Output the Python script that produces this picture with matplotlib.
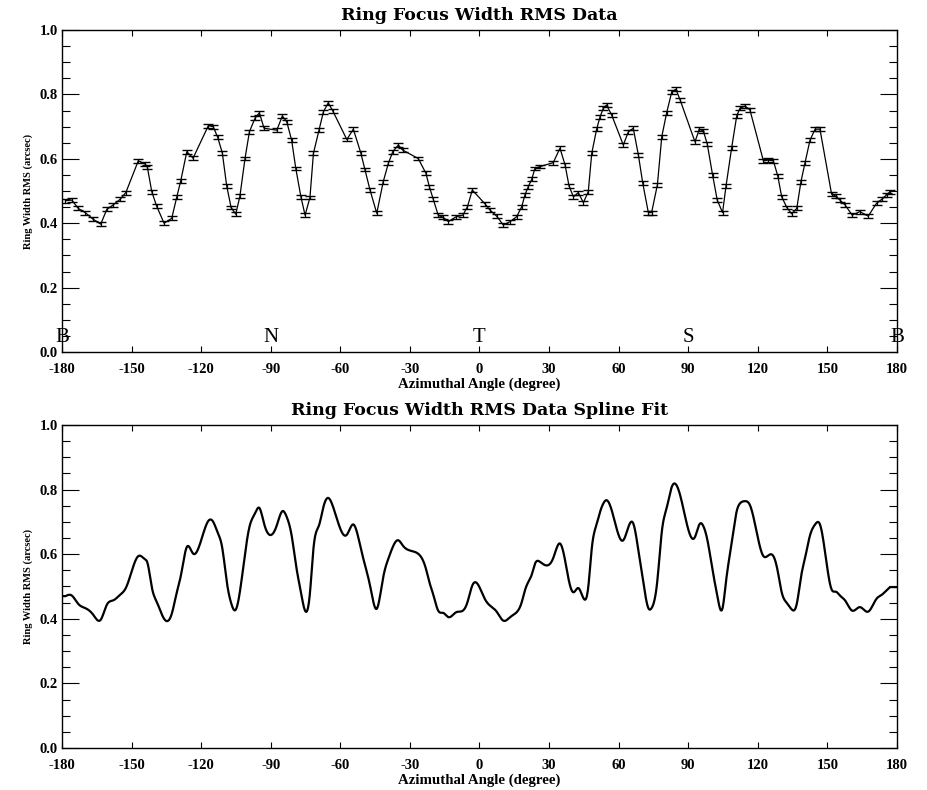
import numpy as np
import matplotlib
matplotlib.use("Agg")
import matplotlib.pyplot as plt
from matplotlib.font_manager import FontProperties
from matplotlib.ticker import MultipleLocator, FormatStrFormatter

plt.rcParams['axes.unicode_minus'] = False
plt.rcParams['font.family'] = ['Liberation Serif', 'DejaVu Serif']

# Azimuthal angle of each ring-width sample (degree)
angle = [
    -178.5, -175.8, -173.0, -170.0, -166.5, -163.3, -160.7, -157.9, -155.0, -152.5,
    -147.1, -144.2, -143.2, -141.3, -139.2, -136.0, -132.7, -130.5, -128.8, -126.2,
    -123.5, -116.9, -114.8, -112.9, -110.9, -109.0, -107.1, -105.1, -103.3, -101.1,
    -99.2, -96.8, -94.9, -92.9, -87.4, -85.0, -83.1, -81.0, -79.2, -77.0,
    -75.2, -73.1, -71.6, -69.2, -67.3, -65.2, -63.2, -57.2, -54.4, -51.2,
    -49.4, -47.2, -44.3, -41.5, -39.3, -37.4, -35.0, -33.1, -26.4, -23.1,
    -21.6, -19.9, -17.8, -15.6, -13.4, -10.1, -7.2, -5.2, -3.1, 2.4,
    4.5, 7.4, 10.3, 13.2, 16.0, 18.2, 19.6, 21.0, 22.5, 23.9,
    26.1, 31.8, 34.7, 36.9, 38.6, 40.5, 42.6, 44.8, 46.9, 48.4,
    50.5, 52.0, 53.4, 54.8, 57.0, 62.0, 64.2, 66.3, 68.5, 70.4,
    72.8, 74.2, 76.7, 78.6, 80.7, 82.9, 84.7, 86.5, 92.9, 94.8,
    96.5, 98.2, 100.5, 102.5, 104.8, 106.3, 108.7, 110.9, 112.3, 114.5,
    116.6, 122.4, 124.5, 126.7, 128.6, 130.3, 132.5, 134.6, 136.8, 138.6,
    140.3, 142.5, 144.7, 146.8, 151.8, 153.6, 155.4, 157.6, 160.7, 164.0,
    167.6, 171.2, 173.4, 175.5, 177.0,
]

# Ring width RMS at each angle (arcsec)
rms = [
    0.470, 0.472, 0.446, 0.433, 0.412, 0.397, 0.443, 0.457, 0.474, 0.495,
    0.594, 0.584, 0.574, 0.498, 0.453, 0.400, 0.415, 0.482, 0.532, 0.622,
    0.602, 0.703, 0.700, 0.667, 0.619, 0.516, 0.449, 0.428, 0.484, 0.601,
    0.684, 0.726, 0.743, 0.695, 0.689, 0.733, 0.715, 0.658, 0.570, 0.482,
    0.425, 0.480, 0.617, 0.689, 0.746, 0.774, 0.748, 0.660, 0.692, 0.619,
    0.567, 0.503, 0.431, 0.529, 0.586, 0.622, 0.643, 0.627, 0.601, 0.555,
    0.513, 0.474, 0.425, 0.418, 0.405, 0.420, 0.425, 0.451, 0.503, 0.460,
    0.441, 0.422, 0.394, 0.405, 0.420, 0.451, 0.488, 0.513, 0.536, 0.570,
    0.576, 0.588, 0.633, 0.581, 0.516, 0.482, 0.495, 0.464, 0.498, 0.617,
    0.692, 0.731, 0.757, 0.767, 0.736, 0.643, 0.684, 0.695, 0.612, 0.524,
    0.433, 0.433, 0.519, 0.669, 0.743, 0.808, 0.816, 0.783, 0.653, 0.692,
    0.687, 0.646, 0.550, 0.472, 0.433, 0.516, 0.633, 0.733, 0.757, 0.764,
    0.752, 0.594, 0.596, 0.594, 0.547, 0.482, 0.449, 0.429, 0.446, 0.529,
    0.586, 0.658, 0.692, 0.692, 0.491, 0.484, 0.472, 0.457, 0.425, 0.436,
    0.422, 0.462, 0.474, 0.488, 0.498,
]

rms_err = 0.006

region_labels = ['B', 'N', 'T', 'S', 'B']
region_angles = [-180, -90, 0, 90, 180]

x_ticks = [-180, -150, -120, -90, -60, -30, 0, 30, 60, 90, 120, 150, 180]


def natural_spline(x, y, xs):
    """Natural cubic spline through (x, y), evaluated at xs (held flat past the ends)."""
    x = np.asarray(x, float)
    y = np.asarray(y, float)
    xs = np.clip(xs, x[0], x[-1])
    n = len(x)
    h = np.diff(x)
    A = np.zeros((n, n))
    b = np.zeros(n)
    A[0, 0] = 1.0
    A[-1, -1] = 1.0
    for i in range(1, n - 1):
        A[i, i - 1] = h[i - 1]
        A[i, i] = 2.0 * (h[i - 1] + h[i])
        A[i, i + 1] = h[i]
        b[i] = 3.0 * ((y[i + 1] - y[i]) / h[i] - (y[i] - y[i - 1]) / h[i - 1])
    c = np.linalg.solve(A, b)
    bb = (y[1:] - y[:-1]) / h - h * (2 * c[:-1] + c[1:]) / 3.0
    d = (c[1:] - c[:-1]) / (3.0 * h)
    idx = np.clip(np.searchsorted(x, xs) - 1, 0, n - 2)
    t = xs - x[idx]
    return y[idx] + bb[idx] * t + c[idx] * t ** 2 + d[idx] * t ** 3


tick_fp = FontProperties(family='Liberation Serif', weight='bold', size=10.5)
xlabel_font = dict(family='Liberation Serif', weight='bold', size=10.7)
ylabel_font = dict(family='Liberation Serif', weight='bold', size=7.6)
title_font = dict(family='DejaVu Serif', weight='bold', size=12.5)


def style_axes(ax, title):
    ax.set_xlim(-180, 180)
    ax.set_ylim(0.0, 1.0)
    ax.set_xticks(x_ticks)
    ax.yaxis.set_major_locator(MultipleLocator(0.2))
    ax.yaxis.set_minor_locator(MultipleLocator(0.05))
    ax.yaxis.set_major_formatter(FormatStrFormatter('%.1f'))
    ax.tick_params(axis='x', which='major', direction='in', length=4.5,
                   top=True, bottom=True, width=0.8, pad=8)
    ax.tick_params(axis='y', which='major', direction='in', length=12,
                   left=True, right=True, width=0.8, pad=3)
    ax.tick_params(axis='y', which='minor', direction='in', length=6,
                   left=True, right=True, width=0.8)
    for lab in ax.get_xticklabels() + ax.get_yticklabels():
        lab.set_fontproperties(tick_fp)
    for s in ax.spines.values():
        s.set_linewidth(1.0)
    ax.set_title(title, fontdict=title_font, pad=7)
    ax.set_xlabel('Azimuthal Angle (degree)', fontdict=xlabel_font, labelpad=1)
    ax.set_ylabel('Ring Width RMS (arcsec)', fontdict=ylabel_font, labelpad=5)


fig = plt.figure(figsize=(9.27, 7.90), dpi=100)
ax1 = fig.add_axes([0.0669, 0.5544, 0.9007, 0.4076])
ax2 = fig.add_axes([0.0669, 0.0532, 0.9007, 0.4089])

# Measured widths with error bars
ax1.errorbar(angle, rms, yerr=rms_err, color='black', linewidth=0.9,
             elinewidth=0.9, capsize=3.3, capthick=1.0)
for lab, a in zip(region_labels, region_angles):
    ax1.text(a, 0.03, lab, ha='center', va='baseline', fontsize=15,
             family='Liberation Serif', color='black')
style_axes(ax1, 'Ring Focus Width RMS Data')

# Smooth spline through the measured widths
xs = np.linspace(-180, 180, 2000)
ax2.plot(xs, natural_spline(angle, rms, xs), color='black', linewidth=1.6)
style_axes(ax2, 'Ring Focus Width RMS Data Spline Fit')

fig.savefig('out.png', dpi=100)
